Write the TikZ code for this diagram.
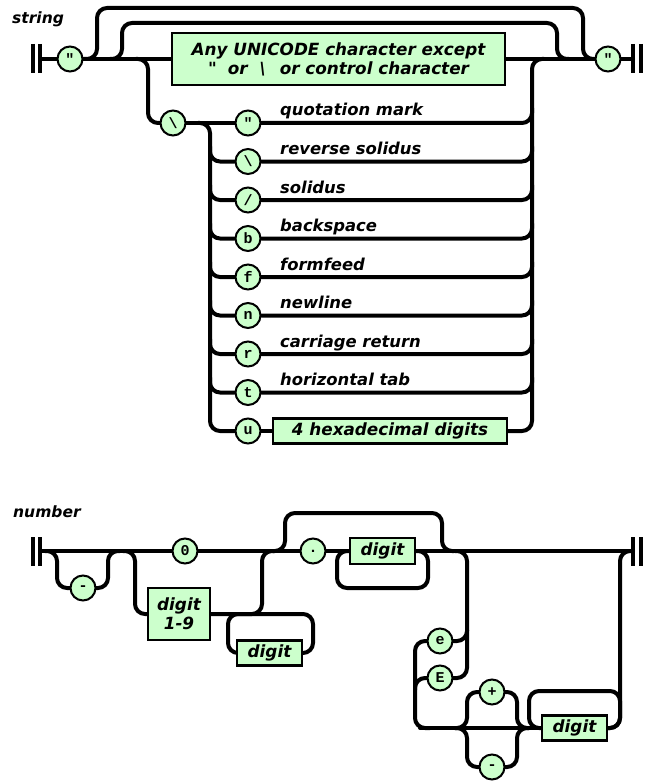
\documentclass[tikz,border=0pt]{standalone}
\usepackage{fontspec}
\newfontfamily\railfont{DejaVu Sans}
\newfontfamily\glyphfont{Liberation Mono}
\definecolor{railgreen}{RGB}{204,255,204}
\pgfdeclarelayer{bg}
\pgfsetlayers{bg,main}
\newcommand\dq{\symbol{"22}}
\tikzset{
  rail/.style={line width=4pt, rounded corners=10pt, line cap=round},
  endbar/.style={line width=4pt},
  term/.style={circle, draw, line width=2pt, fill=railgreen, minimum size=25pt, inner sep=0pt,
    font=\glyphfont\bfseries\fontsize{15}{15}\selectfont},
  nonterm/.style={rectangle, draw, line width=2.5pt, fill=railgreen, inner sep=0pt,
    font=\railfont\bfseries\itshape\fontsize{16.8}{19}\selectfont},
  lbl/.style={inner sep=0pt, font=\railfont\bfseries\itshape\fontsize{16.4}{19}\selectfont},
  title/.style={inner sep=0pt, font=\railfont\bfseries\itshape\fontsize{15.5}{18}\selectfont},
}
\begin{document}
\begin{tikzpicture}[x=1pt, y=-1pt]
\useasboundingbox (0,0) rectangle (645,781);

% ---------------- string ----------------
\node[title, anchor=base west] (tstring) at (12,24) {string};
\coordinate (sstart) at (40,59);
\coordinate (send) at (633,59);
\draw[endbar] (33,44) -- (33,73) (sstart) ++(0,-15) -- ++(0,29);
\draw[endbar] (send) ++(0,-15) -- ++(0,29) (641,44) -- (641,73);

\node[term] (sq1) at (70,59) {\dq};
\node[term] (sq2) at (608,59) {\dq};
\node[nonterm, minimum width=333pt, minimum height=52pt, align=center] (anychar) at (338.5,59)
  {Any UNICODE character except\\\dq\hspace{11pt}or\hspace{12pt}\textbackslash\hspace{14pt}or control character};

\node[term] (bs) at (173,123) {\textbackslash};
\foreach \k/\ch/\txt [evaluate=\k as \yy using 123+38.5*(\k-1)] in
  {1/\dq/quotation mark, 2/\textbackslash/reverse solidus, 3/\slash/solidus, 4/b/backspace,
   5/f/formfeed, 6/n/newline, 7/r/carriage return, 8/t/horizontal tab, 9/u/} {
  \node[term] (esc\k) at (248,\yy) {\ch};
  \node[lbl, anchor=base west] (lab\k) at (280,\yy-7) {\txt};
}
\node[nonterm, minimum width=234pt, minimum height=25pt] (hex) at (390,431) {4 hexadecimal digits};

\begin{pgfonlayer}{bg}
  \draw[rail] (sstart) -- (sq1.west);
  \draw[rail] (sq1.east) -- (anychar.west);
  \draw[rail] (anychar.east) -- (sq2.west);
  \draw[rail] (sq2.east) -- (send);
  % bypass for the empty string
  \draw[rail] (sq1.east) -- (97,59) -- (97,8) -- (583,8) -- (583,59) -- (sq2.west);
  % repetition loop
  \draw[rail] (110,59) -- (122,59) -- (122,23) -- (557,23) -- (557,59) -- (569,59);
  % escape branch
  \draw[rail] (136,59) -- (148,59) -- (148,123) -- (bs.west);
  \draw[rail] (bs.east) -- (esc1.west);
  \draw[rail] (198,123) -- (210,123) -- (210,431) -- (esc9.west);
  \foreach \k [evaluate=\k as \yy using 123+38.5*(\k-1)] in {2,...,8}
    \draw[rail] (210,\yy-15) |- (esc\k.west);
  \foreach \k [evaluate=\k as \yy using 123+38.5*(\k-1)] in {1,...,8}
    \draw[rail] (esc\k.east) -| (532,\yy-15);
  \draw[rail] (esc9.east) -- (hex.west);
  \draw[rail] (hex.east) -- (532,431) -- (532,59) -- (544,59);
\end{pgfonlayer}

% ---------------- number ----------------
\node[title, anchor=base west] (tnumber) at (13,517) {number};
\coordinate (nstart) at (40,551);
\coordinate (nend) at (633,551);
\draw[endbar] (33,537) -- (33,566) (nstart) ++(0,-14) -- ++(0,29);
\draw[endbar] (nend) ++(0,-14) -- ++(0,29) (641,537) -- (641,566);

\node[term] (minus) at (83,588) {-};
\node[term] (zero) at (185,551) {0};
\node[nonterm, minimum width=62pt, minimum height=52pt, align=center] (d19) at (179,614) {digit\\1-9};
\node[nonterm, minimum width=65pt, minimum height=25pt] (idig) at (269.5,653) {digit};
\node[term] (dot) at (313,551) {.};
\node[nonterm, minimum width=65pt, minimum height=26pt] (fdig) at (382.5,551) {digit};
\node[term] (smalle) at (440,641) {e};
\node[term] (bigE) at (440,678) {E};
\node[term] (plus) at (492,692) {+};
\node[term] (neg) at (492,767) {-};
\node[nonterm, minimum width=65pt, minimum height=25pt] (edig) at (574.5,728) {digit};

\begin{pgfonlayer}{bg}
  \draw[rail] (nstart) -- (zero.west);
  \draw[rail] (zero.east) -- (dot.west);
  \draw[rail] (dot.east) -- (fdig.west);
  \draw[rail] (fdig.east) -- (nend);
  % optional minus
  \draw[rail] (45,551) -- (57,551) -- (57,588) -- (minus.west);
  \draw[rail] (minus.east) -- (108,588) -- (108,551) -- (120,551);
  % integer part
  \draw[rail] (123,551) -- (135,551) -- (135,614) -- (d19.west);
  \draw[rail] (d19.east) -- (262,614) -- (262,551) -- (274,551);
  \draw[rail] (228,614) rectangle (313,653);
  % fraction
  \draw[rail] (273,551) -- (285,551) -- (285,513) -- (442,513) -- (442,551) -- (454,551);
  \draw[rail] (337,551) rectangle (428,588);
  % exponent
  \draw[rail] (455,551) -- (467,551) -- (467,678) -- (bigE.east);
  \draw[rail] (smalle.east) -| (467,630);
  \draw[rail] (smalle.west) -- (415,641) -- (415,728) -- (430,728);
  \draw[rail] (bigE.west) -| (415,690);
  \draw[rail] (420,728) -- (edig.west);
  \draw[rail] (455,728) -- (467,728) -- (467,692) -- (plus.west);
  \draw[rail] (plus.east) -- (517,692) -- (517,728) -- (529,728);
  \draw[rail] (455,728) -- (467,728) -- (467,767) -- (neg.west);
  \draw[rail] (neg.east) -- (517,767) -- (517,728) -- (529,728);
  \draw[rail] (529,691) rectangle (620,728);
  \draw[rail] (edig.east) -- (620,728) -- (620,551) -- (632,551);
\end{pgfonlayer}
\end{tikzpicture}
\end{document}
